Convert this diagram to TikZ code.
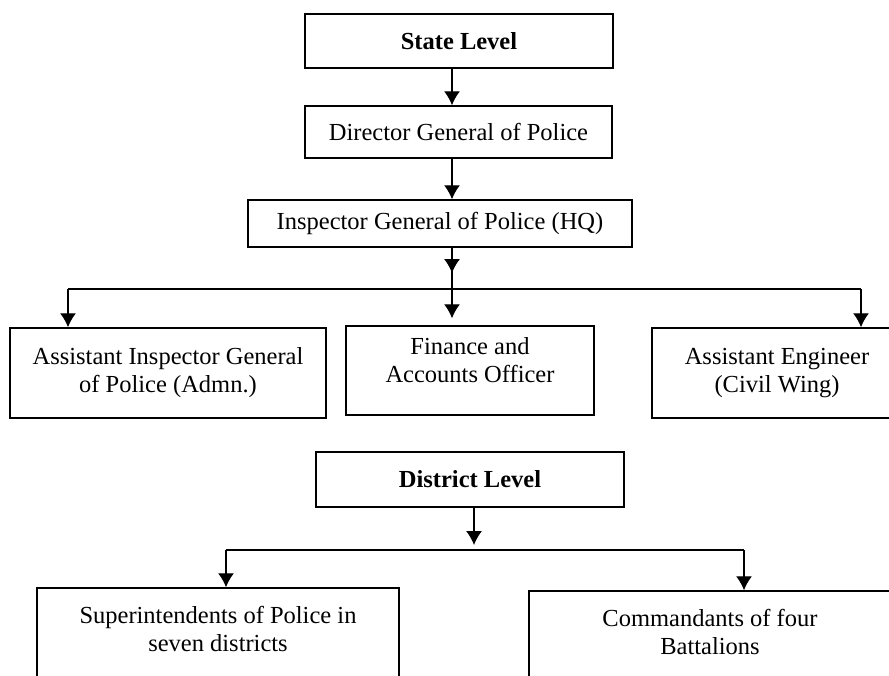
\documentclass[tikz,border=0pt]{standalone}
\usepackage{fontspec}
\setmainfont{Liberation Serif}
\usetikzlibrary{arrows.meta}

\tikzset{
	box/.style={draw, line width=1.5pt, align=center, inner sep=0pt},
	arr/.style={line width=1.3pt, -{Latex[length=14pt,width=16pt]}},
	bar/.style={line width=1.3pt}
}

\begin{document}
\begin{tikzpicture}[x=1pt, y=-1pt, font=\fontsize{24.5pt}{28pt}\selectfont]
	\useasboundingbox (0,0) rectangle (889,675);

	\node[box, minimum width=308pt, minimum height=54pt] (state) at (459,41) {\textbf{State Level}};
	\node[box, minimum width=307pt, minimum height=52pt] (dgp) at (458.5,132) {Director General of Police};
	\node[box, minimum width=384pt, minimum height=47pt] (igp) at (440,223.5) {Inspector General of Police (HQ)};

	\node[box, minimum width=316pt, minimum height=90pt] (aig) at (168,373) {Assistant Inspector General\\of Police (Admn.)};
	\node[box, minimum width=248pt, minimum height=89pt] (fao) at (470,370.5) {Finance and\\Accounts Officer\\[-6pt]\mbox{}};
	\node[box, minimum width=250pt, minimum height=90pt] (aec) at (777,373) {Assistant Engineer\\(Civil Wing)};

	\node[box, minimum width=308pt, minimum height=55pt] (district) at (470,479.5) {\textbf{District Level}};
	\node[box, minimum width=362pt, minimum height=138pt] (sp) at (218,657) {Superintendents of Police in\\seven districts\\\strut\\\mbox{}};
	\node[box, minimum width=362pt, minimum height=138pt] (cb) at (710,660) {Commandants of four\\Battalions\\\strut\\\mbox{}};

	\coordinate (trunk) at (452,0);
	\coordinate (hub) at (452,289);
	\coordinate (hubl) at (68,289);
	\coordinate (hubr) at (861,289);
	\coordinate (dhub) at (474,550);
	\coordinate (dhubl) at (226,550);
	\coordinate (dhubr) at (744,550);

	\draw[arr] (state.south -| trunk) -- (dgp.north -| trunk);
	\draw[arr] (dgp.south -| trunk) -- (igp.north -| trunk);
	\draw[bar] (igp.south -| trunk) -- (hub);
	\draw[arr] (igp.south -| trunk) -- ([yshift=16pt]hub);
	\draw[bar] (hubl) -- (hubr);
	\draw[arr] (hub) -- ([yshift=7pt]fao.north -| hub);
	\draw[arr] (hubl) -- (aig.north -| hubl);
	\draw[arr] (hubr) -- (aec.north -| hubr);

	\draw[arr] (district.south -| dhub) -- ([yshift=5pt]dhub);
	\draw[bar] (dhubl) -- (dhubr);
	\draw[arr] (dhubl) -- (sp.north -| dhubl);
	\draw[arr] (dhubr) -- (cb.north -| dhubr);
\end{tikzpicture}
\end{document}
